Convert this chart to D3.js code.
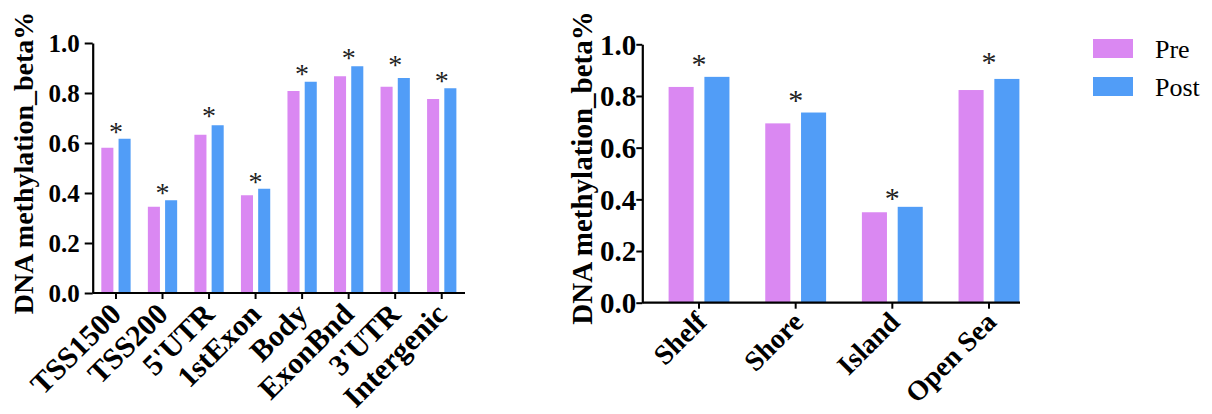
<!DOCTYPE html>
<html><head><meta charset="utf-8">
<script src="https://cdn.jsdelivr.net/npm/d3@7"></script>
<style>body{margin:0;background:#fff;}svg{display:block;}</style>
</head><body>
<svg id="c" width="1212" height="414"></svg>
<script>
const series = ["Pre", "Post"];
const colors = ["#DA88F2", "#519DF7"];
const yTicks = [0.0, 0.2, 0.4, 0.6, 0.8, 1.0];

const catsLeft = ["TSS1500", "TSS200", "5'UTR", "1stExon", "Body", "ExonBnd", "3'UTR", "Intergenic"];
const preLeft  = [0.581, 0.345, 0.633, 0.391, 0.808, 0.867, 0.825, 0.776];
const postLeft = [0.617, 0.371, 0.671, 0.417, 0.845, 0.907, 0.860, 0.819];
const starLeft = [0.665, 0.419, 0.728, 0.465, 0.896, 0.959, 0.932, 0.868];

const catsRight = ["Shelf", "Shore", "Island", "Open Sea"];
const preRight  = [0.835, 0.694, 0.350, 0.823];
const postRight = [0.874, 0.736, 0.371, 0.866];
const starRight = [0.943, 0.802, 0.426, 0.951];

const yLabel = "DNA methylation_beta%";
const svg = d3.select("#c");
const SERIF = "'Liberation Serif','Times New Roman',serif";

function panel(o) {
  const g = svg.append("g");
  const y = d3.scaleLinear().domain([0, 1]).range([o.y0, o.y1]);
  const x = d3.scaleBand().domain(o.cats).range(o.band);
  const xs = d3.scaleBand().domain(series).range([0, x.bandwidth()]).paddingInner(0.3).paddingOuter(0.5);
  const rows = o.cats.map((c, i) => ({c, vals: [o.pre[i], o.post[i]], star: o.star[i]}));

  const grp = g.selectAll("g.cat").data(rows).join("g").attr("class", "cat")
    .attr("transform", d => `translate(${x(d.c)},0)`);
  grp.selectAll("rect").data(d => d.vals.map((v, k) => ({k, v}))).join("rect")
    .attr("x", d => xs(series[d.k]))
    .attr("width", xs.bandwidth())
    .attr("y", d => y(d.v))
    .attr("height", d => y(0) - y(d.v))
    .attr("fill", d => colors[d.k]);

  g.selectAll("text.star").data(rows).join("text").attr("class", "star")
    .attr("x", d => x(d.c) + x.bandwidth() / 2)
    .attr("y", d => y(d.star))
    .attr("dy", "0.5em")
    .attr("text-anchor", "middle")
    .attr("font-family", SERIF).attr("font-size", o.starSize).attr("fill", "#222")
    .text("*");

  const ya = g.append("g").attr("transform", `translate(${o.axisX},0)`)
    .call(d3.axisLeft(y).tickValues(yTicks).tickFormat(d3.format(".1f")).tickSize(o.tick).tickSizeOuter(0).tickPadding(o.tickPad));
  ya.attr("font-family", null).attr("font-size", null);
  ya.select(".domain").attr("stroke", "#000").attr("stroke-width", 2.2);
  ya.selectAll(".tick line").attr("stroke", "#000").attr("stroke-width", 2);
  ya.selectAll(".tick text")
    .style("font-family", SERIF).style("font-weight", "bold")
    .style("font-size", o.tickFont + "px").attr("fill", "#000").attr("dy", "0.34em");

  const xa = g.append("g").attr("transform", `translate(0,${o.y0})`)
    .call(d3.axisBottom(x).tickSize(6).tickSizeOuter(0).tickFormat(""));
  xa.select(".domain").remove();
  xa.append("line").attr("x1", o.axisX).attr("x2", o.axisEnd).attr("y1", 0).attr("y2", 0)
    .attr("stroke", "#000").attr("stroke-width", 2.2);
  xa.selectAll(".tick line").attr("stroke", "#000").attr("stroke-width", 2);

  g.selectAll("text.xl").data(o.cats).join("text").attr("class", "xl")
    .attr("transform", d => `translate(${x(d) + x.bandwidth() / 2 + o.lx},${o.y0 + o.ly}) rotate(-45)`)
    .attr("text-anchor", "end")
    .style("font-family", SERIF).style("font-weight", "bold").style("font-size", o.xFont + "px").attr("fill", "#000")
    .text(d => d);

  g.append("text")
    .attr("transform", `translate(${o.labX},${o.labY}) rotate(-90)`)
    .attr("text-anchor", "middle")
    .style("font-family", SERIF).style("font-weight", "bold").style("font-size", o.labFont + "px").attr("fill", "#000")
    .text(yLabel);
}

panel({cats: catsLeft, pre: preLeft, post: postLeft, star: starLeft,
  y0: 293, y1: 43, band: [92.7, 465], axisX: 92.7, axisEnd: 465,
  tick: 8, tickPad: 5, tickFont: 25, starSize: 28, xFont: 30, lx: 7, ly: 23,
  labX: 33, labY: 163, labFont: 28});

panel({cats: catsRight, pre: preRight, post: postRight, star: starRight,
  y0: 302.7, y1: 44.3, band: [650.7, 1037.3], axisX: 642.3, axisEnd: 1020,
  tick: 6, tickPad: 0, tickFont: 29, starSize: 30, xFont: 28, lx: 9, ly: 21,
  labX: 592, labY: 168, labFont: 29});

const leg = svg.append("g");
series.forEach((s, i) => {
  leg.append("rect").attr("x", 1093).attr("y", 39 + i * 38).attr("width", 40).attr("height", 19).attr("fill", colors[i]);
  leg.append("text").attr("x", 1155).attr("y", 58 + i * 38)
    .style("font-family", SERIF).style("font-size", "26px").attr("fill", "#000").text(s);
});
</script>
</body></html>
